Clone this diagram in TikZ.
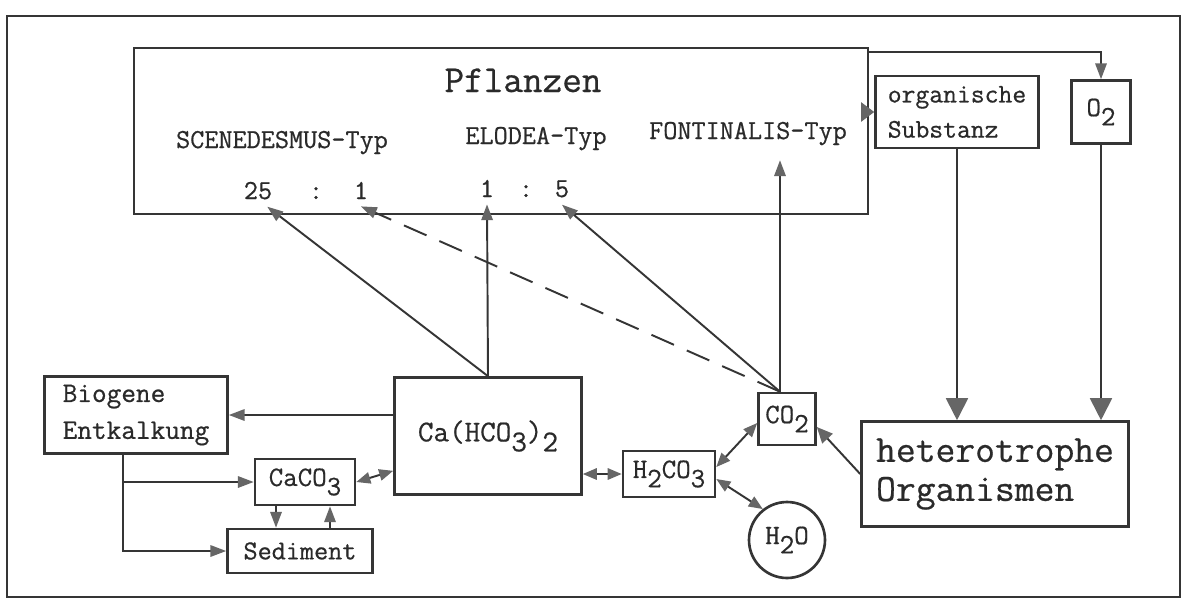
\documentclass[tikz,border=0pt]{standalone}
\usepackage{fontspec}
\usepackage{graphicx}
\usetikzlibrary{arrows.meta,positioning,calc}
\newfontfamily\typer[FakeBold=0.6]{Latin Modern Mono}
\definecolor{ink}{HTML}{353535}
\definecolor{tipgray}{HTML}{666666}
\definecolor{inktext}{HTML}{2A2A2A}
\newcommand{\lowidx}[1]{\raisebox{-0.33em}{#1}}

\begin{document}
\begin{tikzpicture}[x=0.02cm, y=-0.02cm,
    box/.style={rectangle, draw=ink, line width=1.5pt, inner sep=0pt, text=inktext},
    chem/.style={font=\typer\fontsize{16}{19}\selectfont},
    typlabel/.style={font=\typer\fontsize{15.6}{18}\selectfont, text=inktext, anchor=base},
    ratio/.style={font=\typer\fontsize{15.6}{18}\selectfont, text=inktext, anchor=base, inner sep=4pt},
    link/.style={draw=ink, line width=1.1pt},
    arr/.style={link, -{Triangle[length=9pt, width=6.5pt, color=tipgray]}},
    bigarr/.style={link, -{Triangle[length=12.5pt, width=12.5pt, color=tipgray]}},
    twoway/.style={link, {Triangle[length=8pt, width=6.5pt, color=tipgray]}-{Triangle[length=8pt, width=6.5pt, color=tipgray]}}]

    \useasboundingbox[fill=white] (0,0) rectangle (1187,609);
    \draw[ink, line width=1.3pt] (7,16) rectangle (1180,597);

    % Pflanzen
    \node[box, minimum width=14.68cm, minimum height=3.32cm] (pfl) at (501,131) {};
    \node[font=\typer\fontsize{21.7}{25}\selectfont, text=inktext, anchor=base] (pfltitle) at (523,92) {Pflanzen};
    \node[typlabel] (scene) at (282,148) {SCENEDESMUS-Typ};
    \node[typlabel] (elodea) at (536,144) {ELODEA-Typ};
    \node[typlabel] (fonti) at (748,139) {FONTINALIS-Typ};
    \node[ratio] (r25) at (258,199) {25};
    \node[ratio] (col1) at (316,199) {:};
    \node[ratio] (r1a) at (361,199) {1};
    \node[ratio] (r1b) at (487,197) {1};
    \node[ratio] (col2) at (526,197) {:};
    \node[ratio] (r5) at (562,197) {5};

    \node[box, minimum width=3.26cm, minimum height=1.44cm, align=left, font=\typer\fontsize{15.3}{20}\selectfont] (orgsub) at (957,112) {organische\\Substanz};
    \node[box, minimum width=1.18cm, minimum height=1.26cm, chem] (o2) at (1101,112) {O\lowidx{2}};
    \node[box, minimum width=5.34cm, minimum height=2.1cm, align=left, font=\typer\fontsize{21.9}{22.2}\selectfont] (hetero) at (995,474) {heterotrophe\\Organismen};

    \node[box, minimum width=1.14cm, minimum height=1.04cm, chem] (co) at (787,419) {CO\lowidx{2}};
    \node[box, minimum width=1.84cm, minimum height=0.92cm, chem] (h2co) at (669,474) {H\lowidx{2}CO\lowidx{3}};
    \node[box, circle, minimum size=1.52cm, chem] (h2o) at (787,540) {H\lowidx{2}O};
    \node[box, minimum width=3.74cm, minimum height=2.34cm, font=\typer\fontsize{17.2}{20}\selectfont] (ca) at (488,436) {Ca(HCO\lowidx{3})\lowidx{2}};
    \node[box, minimum width=3.66cm, minimum height=1.54cm, align=left, font=\typer\fontsize{16.2}{21}\selectfont] (bio) at (136,415) {Biogene\\Entkalkung};
    \node[box, minimum width=2cm, minimum height=0.92cm, chem] (caco) at (305,482) {CaCO\lowidx{3}};
    \node[box, minimum width=2.9cm, minimum height=0.88cm, font=\typer\fontsize{15.6}{18}\selectfont] (sed) at (300,551) {Sediment};

    \coordinate (cotop) at ($(co.north)+(-7,0)$);
    \coordinate (bdrop) at ($(bio.south)+(-13,0)$);
    \coordinate (cdown) at ($(caco.south)+(-29,0)$);
    \coordinate (cup) at ($(caco.south)+(25,0)$);

    % uptake
    \draw[arr] (ca.north) -- (r25.-60);
    \draw[arr] (ca.north) -- (r1b.south);
    \draw[arr, dash pattern=on 14pt off 8pt] (cotop) -- (r1a.south);
    \draw[arr] (cotop) -- (r5.south);
    \draw[arr, shorten >=5pt] (cotop) -- (cotop |- fonti.south);

    \draw[link, -{Triangle[length=7.5pt, width=11pt, color=tipgray]}] (pfl.east |- orgsub.west) -- (orgsub.west);
    \draw[arr] ($(pfl.north east)+(0,5)$) -| (o2.north);
    \draw[bigarr] (orgsub.south) -- (orgsub.south |- hetero.north);
    \draw[bigarr] (o2.south) -- (o2.south |- hetero.north);
    \draw[link, -{Triangle[length=9pt, width=8pt, color=tipgray]}] (hetero.west) -- ($(co.east)+(0,8)$);

    % carbonate system
    \draw[twoway] (caco.east) -- ($(ca.south west)+(0,-25)$);
    \draw[twoway] (ca.east |- h2co.west) -- (h2co.west);
    \draw[twoway] ($(h2co.east)+(0,-7)$) -- ($(co.west)+(0,4)$);
    \draw[twoway] ($(h2co.east)+(0,5)$) -- (h2o.128);
    \draw[arr] (ca.west |- bio.east) -- (bio.east);
    \draw[arr] (bdrop) |- (sed.west);
    \draw[arr] (bdrop |- caco.west) -- (caco.west);
    \draw[arr] (cdown) -- (cdown |- sed.north);
    \draw[arr] (cup |- sed.north) -- (cup);
\end{tikzpicture}
\end{document}
